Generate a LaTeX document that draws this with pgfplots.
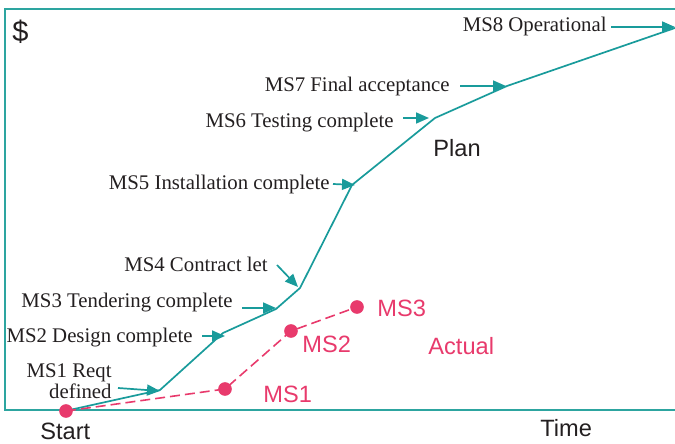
\documentclass[border=0pt]{standalone}
\usepackage{pgfplots}
\pgfplotsset{compat=1.18}
\usepackage{fontspec}
\setmainfont{Liberation Serif}
\newfontfamily\arialfont{Liberation Sans}
\usetikzlibrary{arrows.meta}
\definecolor{tealc}{RGB}{25,155,155}
\definecolor{framec}{RGB}{45,165,160}
\definecolor{pinkc}{RGB}{232,58,108}
\definecolor{txt}{RGB}{35,31,32}
\begin{document}
\begin{tikzpicture}
\begin{axis}[
  width=337.5pt, height=222pt, scale only axis,
  xmin=0, xmax=675, ymin=0, ymax=444,
  hide axis, clip=false,
]
\coordinate (bl) at (axis cs:0,0);
\coordinate (tr) at (axis cs:675,444);
% frame
\draw[framec, line width=1pt] (axis cs:675,435) -- (axis cs:5,435) -- (axis cs:5,34) -- (axis cs:675,34);
% plan
\addplot[tealc, line width=0.85pt, mark=none] coordinates {
 (65,33) (160,54) (223,111) (276,135) (300,156) (352,259) (435,326) (507,358) (675,416)
};
% actual
\addplot[pinkc, line width=0.8pt, dash pattern=on 5pt off 2.5pt, mark=*, mark size=3pt,
  mark options={solid, fill=pinkc, draw=pinkc}] coordinates {
 (66,33) (225,55) (291,113) (357,137)
};
% arrows
\begin{scope}[tealc, line width=0.85pt, -{Triangle[length=6.5pt,width=5.5pt]}]
\draw (axis cs:611,417) -- (axis cs:675,417);
\draw (axis cs:460,358) -- (axis cs:506,358);
\draw (axis cs:403,326) -- (axis cs:429,326);
\draw (axis cs:333,260) -- (axis cs:355,259);
\draw (axis cs:277,179) -- (axis cs:298,157);
\draw (axis cs:242,136) -- (axis cs:276,136);
\draw (axis cs:202,108) -- (axis cs:225,108);
\draw (axis cs:118,56) -- (axis cs:160,53);
\end{scope}
% serif labels
\begin{scope}[every node/.style={inner sep=0pt, text=txt, font=\fontsize{10.4}{12}\selectfont}]
\node[anchor=base east] at (axis cs:607,412) {MS8 Operational};
\node[anchor=base east] at (axis cs:450,352) {MS7 Final acceptance};
\node[anchor=base east] at (axis cs:394,316) {MS6 Testing complete};
\node[anchor=base east] at (axis cs:330,254) {MS5 Installation complete};
\node[anchor=base east] at (axis cs:268,172) {MS4 Contract let};
\node[anchor=base east] at (axis cs:233,136) {MS3 Tendering complete};
\node[anchor=base east] at (axis cs:193,101) {MS2 Design complete};
\node[anchor=base east] at (axis cs:112,66) {MS1 Reqt};
\node[anchor=base east] at (axis cs:112,45) {defined};
\end{scope}
% sans labels
\begin{scope}[every node/.style={inner sep=0pt, font=\arialfont\fontsize{11.8}{14}\selectfont}]
\node[anchor=base west, text=pinkc] at (axis cs:263,41) {MS1};
\node[anchor=base west, text=pinkc] at (axis cs:302,91) {MS2};
\node[anchor=base west, text=pinkc] at (axis cs:377,127) {MS3};
\node[anchor=base west, text=pinkc] at (axis cs:428,89) {Actual};
\node[anchor=base west, text=txt] at (axis cs:433,287) {Plan};
\node[anchor=base west, text=txt] at (axis cs:40,4) {Start};
\node[anchor=base west, text=txt] at (axis cs:540,7) {Time};
\node[anchor=base west, text=txt, font=\arialfont\fontsize{14.5}{16}\selectfont] at (axis cs:12,402) {\$};
\end{scope}
\end{axis}
\pgfresetboundingbox
\useasboundingbox (bl) rectangle (tr);
\end{tikzpicture}
\end{document}
